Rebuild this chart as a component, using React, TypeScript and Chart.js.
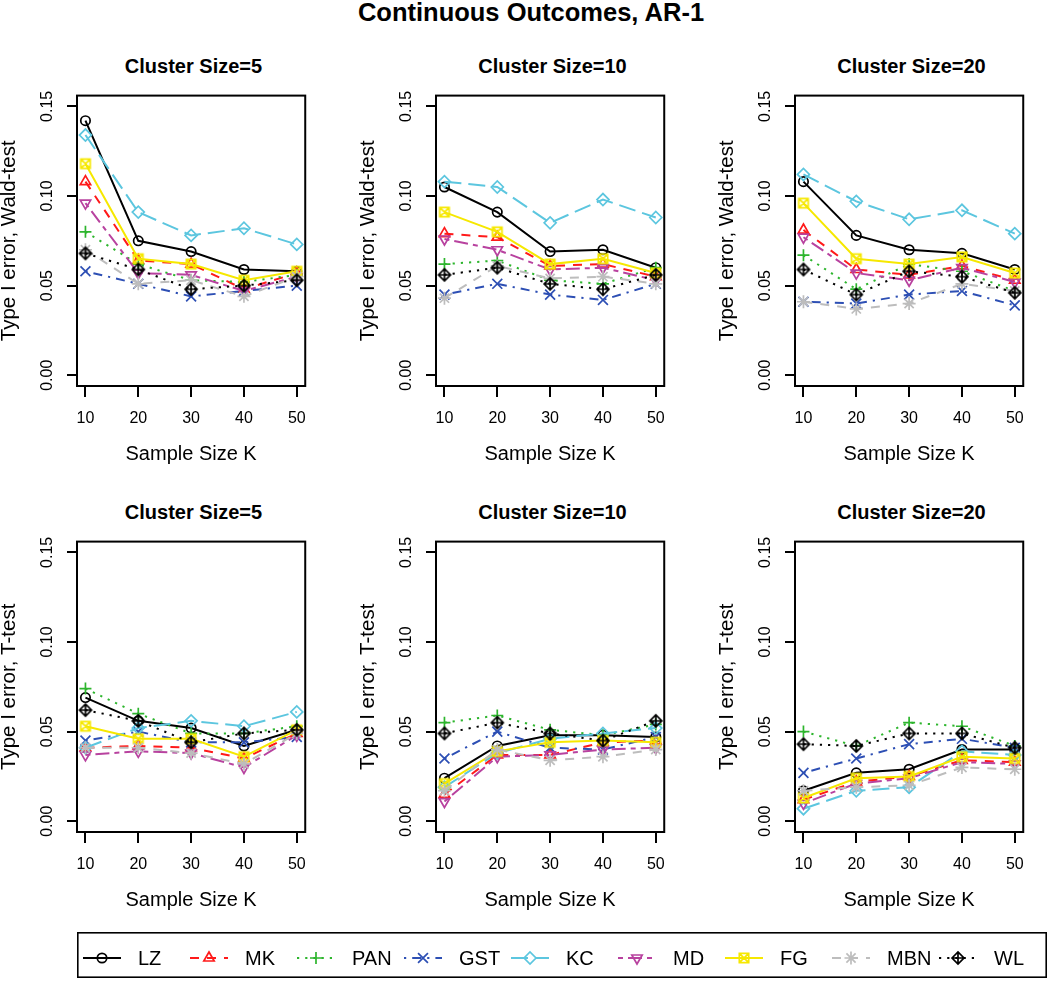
import React, { useEffect, useRef } from "react";
import { Chart, registerables } from "chart.js";
import { drawPoint } from "chart.js/helpers";

Chart.register(...registerables);

// ---------------- data ----------------
const sampleSizes = [10, 20, 30, 40, 50];
const methods = ["LZ", "MK", "PAN", "GST", "KC", "MD", "FG", "MBN", "WL"];
const yTickValues = [0, 0.05, 0.1, 0.15];
const clusterSizes = [5, 10, 20];

// rows follow the order of `methods`
const waldCS5 = [
  [0.142, 0.075, 0.069, 0.059, 0.058],
  [0.108, 0.064, 0.062, 0.048, 0.057],
  [0.080, 0.062, 0.053, 0.052, 0.056],
  [0.058, 0.051, 0.044, 0.047, 0.050],
  [0.134, 0.091, 0.078, 0.082, 0.073],
  [0.096, 0.057, 0.056, 0.047, 0.055],
  [0.118, 0.065, 0.062, 0.053, 0.058],
  [0.070, 0.051, 0.053, 0.044, 0.055],
  [0.068, 0.059, 0.048, 0.050, 0.053],
];
const waldCS10 = [
  [0.105, 0.091, 0.069, 0.070, 0.060],
  [0.079, 0.077, 0.061, 0.062, 0.055],
  [0.062, 0.064, 0.053, 0.051, 0.060],
  [0.045, 0.051, 0.045, 0.042, 0.051],
  [0.108, 0.105, 0.085, 0.098, 0.088],
  [0.076, 0.070, 0.059, 0.060, 0.053],
  [0.091, 0.080, 0.062, 0.065, 0.057],
  [0.043, 0.061, 0.054, 0.055, 0.051],
  [0.056, 0.060, 0.051, 0.048, 0.056],
];
const waldCS20 = [
  [0.108, 0.078, 0.070, 0.068, 0.059],
  [0.081, 0.059, 0.056, 0.061, 0.053],
  [0.067, 0.048, 0.062, 0.058, 0.047],
  [0.041, 0.040, 0.045, 0.047, 0.039],
  [0.112, 0.097, 0.087, 0.092, 0.079],
  [0.077, 0.057, 0.053, 0.060, 0.052],
  [0.096, 0.065, 0.062, 0.066, 0.057],
  [0.041, 0.037, 0.040, 0.051, 0.047],
  [0.059, 0.045, 0.058, 0.055, 0.046],
];
const tCS5 = [
  [0.069, 0.056, 0.052, 0.042, 0.051],
  [0.041, 0.042, 0.041, 0.035, 0.049],
  [0.074, 0.060, 0.049, 0.049, 0.053],
  [0.045, 0.050, 0.044, 0.044, 0.047],
  [0.041, 0.052, 0.056, 0.053, 0.061],
  [0.037, 0.039, 0.038, 0.030, 0.048],
  [0.053, 0.046, 0.046, 0.036, 0.051],
  [0.041, 0.041, 0.038, 0.032, 0.049],
  [0.062, 0.056, 0.044, 0.049, 0.051],
];
const tCS10 = [
  [0.024, 0.042, 0.048, 0.048, 0.047],
  [0.015, 0.037, 0.037, 0.044, 0.045],
  [0.055, 0.059, 0.051, 0.048, 0.054],
  [0.035, 0.050, 0.041, 0.040, 0.047],
  [0.019, 0.038, 0.046, 0.049, 0.052],
  [0.011, 0.036, 0.037, 0.040, 0.041],
  [0.021, 0.039, 0.044, 0.045, 0.044],
  [0.017, 0.040, 0.034, 0.036, 0.040],
  [0.049, 0.055, 0.049, 0.045, 0.056],
];
const tCS20 = [
  [0.017, 0.027, 0.029, 0.040, 0.040],
  [0.012, 0.022, 0.025, 0.034, 0.033],
  [0.050, 0.042, 0.055, 0.053, 0.042],
  [0.027, 0.035, 0.043, 0.046, 0.041],
  [0.007, 0.017, 0.019, 0.039, 0.037],
  [0.010, 0.021, 0.024, 0.033, 0.032],
  [0.013, 0.024, 0.025, 0.036, 0.035],
  [0.017, 0.019, 0.020, 0.030, 0.029],
  [0.043, 0.042, 0.049, 0.049, 0.041],
];

// ---------------- styles ----------------
const FONT = "'Liberation Sans', Arial, Helvetica, sans-serif";
const COLORS = ["#000000", "#FF1A1A", "#2DB52D", "#2D4FB4", "#5CC6DF", "#B8429F", "#F6E800", "#BDBDBD", "#000000"];
const DASHES: number[][] = [
  [],
  [9, 8],
  [2.2, 6],
  [2.2, 6, 9, 6],
  [17, 7],
  [5, 5, 14, 5],
  [],
  [9, 8],
  [2.2, 6],
];
const X_MIN = 8.4, X_MAX = 51.6, Y_MIN = -0.006, Y_MAX = 0.156;
const BOX_W = 233, BOX_H = 300;
const COL_LEFT = [77, 436, 795];
const ROW_TOP = [86, 532];
const Y_AXIS_W = 82, X_AXIS_H = 80, PAD_T = 4, PAD_R = 8;

function makeMarker(kind: "sqx" | "diaplus", color: string): HTMLCanvasElement {
  const c = document.createElement("canvas");
  c.width = 18; c.height = 18;
  const g = c.getContext("2d")!;
  g.strokeStyle = color; g.lineWidth = 1.7;
  const m = 9;
  g.beginPath();
  if (kind === "sqx") {
    const h = 4.7;
    g.rect(m - h, m - h, 2 * h, 2 * h);
    g.moveTo(m - h, m - h); g.lineTo(m + h, m + h);
    g.moveTo(m + h, m - h); g.lineTo(m - h, m + h);
  } else {
    const r = 6;
    g.moveTo(m - r, m); g.lineTo(m, m - r); g.lineTo(m + r, m); g.lineTo(m, m + r); g.closePath();
    g.moveTo(m - r, m); g.lineTo(m + r, m);
    g.moveTo(m, m - r); g.lineTo(m, m + r);
  }
  g.stroke();
  return c;
}

function markerStyles() {
  return [
    { style: "circle" as any, radius: 4.7, rotation: 0 },
    { style: "triangle" as any, radius: 6, rotation: 0 },
    { style: "cross" as any, radius: 6, rotation: 0 },
    { style: "crossRot" as any, radius: 7, rotation: 0 },
    { style: "rectRot" as any, radius: 6, rotation: 0 },
    { style: "triangle" as any, radius: 6, rotation: 180 },
    { style: makeMarker("sqx", COLORS[6]) as any, radius: 5, rotation: 0 },
    { style: "star" as any, radius: 6.5, rotation: 0 },
    { style: makeMarker("diaplus", COLORS[8]) as any, radius: 6, rotation: 0 },
  ];
}

const boxPlugin = {
  id: "box",
  afterDraw(chart: any) {
    const { ctx, chartArea: a } = chart;
    ctx.save();
    ctx.strokeStyle = "#000";
    ctx.lineWidth = 2;
    ctx.setLineDash([]);
    ctx.strokeRect(a.left, a.top, a.right - a.left, a.bottom - a.top);
    ctx.restore();
  },
};

type PanelProps = { col: number; row: number; series: number[][]; yTitle: string };

function Panel({ col, row, series, yTitle }: PanelProps) {
  const ref = useRef<HTMLCanvasElement>(null);
  const width = Y_AXIS_W + BOX_W + PAD_R;
  const height = PAD_T + BOX_H + X_AXIS_H;
  useEffect(() => {
    const mk = markerStyles();
    const chart = new Chart(ref.current!, {
      type: "line",
      data: {
        datasets: methods.map((m, i) => ({
          label: m,
          data: sampleSizes.map((k, j) => ({ x: k, y: series[i][j] })),
          borderColor: COLORS[i],
          borderDash: DASHES[i],
          borderWidth: 2,
          tension: 0,
          fill: false,
          order: -i,
          pointStyle: mk[i].style,
          pointRadius: mk[i].radius,
          pointRotation: mk[i].rotation,
          pointBorderColor: COLORS[i],
          pointBackgroundColor: "rgba(0,0,0,0)",
          pointBorderWidth: 1.7,
        })),
      },
      options: {
        responsive: false,
        animation: false,
        devicePixelRatio: 1,
        events: [],
        layout: { padding: { left: 0, top: PAD_T, right: PAD_R, bottom: 0 } },
        plugins: { legend: { display: false }, tooltip: { enabled: false }, title: { display: false } },
        scales: {
          x: {
            type: "linear",
            min: X_MIN,
            max: X_MAX,
            bounds: "data",
            afterBuildTicks: (s: any) => { s.ticks = sampleSizes.map((v) => ({ value: v })); },
            afterFit: (s: any) => { s.height = X_AXIS_H; },
            grid: { drawOnChartArea: false, drawTicks: true, tickLength: 11, color: "#000", lineWidth: 2 },
            border: { display: false },
            ticks: { color: "#000", font: { family: FONT, size: 16 }, padding: 12, autoSkip: false, maxRotation: 0, minRotation: 0, callback: (v: any) => String(v) },
            title: { display: true, text: "Sample Size K", color: "#000", font: { family: FONT, size: 20 }, padding: { top: 0, bottom: 0 } },
          },
          y: {
            type: "linear",
            min: Y_MIN,
            max: Y_MAX,
            bounds: "data",
            afterBuildTicks: (s: any) => { s.ticks = yTickValues.map((v) => ({ value: v })); },
            afterFit: (s: any) => { s.width = Y_AXIS_W; },
            grid: { drawOnChartArea: false, drawTicks: true, tickLength: 10, color: "#000", lineWidth: 2 },
            border: { display: false },
            ticks: { color: "#000", font: { family: FONT, size: 16 }, padding: 4, autoSkip: false, minRotation: 90, maxRotation: 90, crossAlign: "center", callback: (v: any) => Number(v).toFixed(2) },
            title: { display: true, text: yTitle, color: "#000", font: { family: FONT, size: 20.5, lineHeight: 1 }, padding: { top: 4, bottom: 0 } },
          },
        },
      } as any,
      plugins: [boxPlugin],
    });
    return () => chart.destroy();
  }, []);
  const left = COL_LEFT[col] - Y_AXIS_W;
  const top = ROW_TOP[row] - PAD_T;
  return (
    <>
      <div
        style={{
          position: "absolute",
          left: COL_LEFT[col],
          width: BOX_W,
          top: ROW_TOP[row] - 30,
          fontFamily: FONT,
          fontWeight: "bold",
          fontSize: 20,
          lineHeight: "20px",
          textAlign: "center",
          whiteSpace: "nowrap",
          color: "#000",
        }}
      >
        {`Cluster Size=${clusterSizes[col]}`}
      </div>
      <canvas
        ref={ref}
        width={width}
        height={height}
        style={{ position: "absolute", left, top, width, height }}
      />
    </>
  );
}

function Legend() {
  const ref = useRef<HTMLCanvasElement>(null);
  const W = 970, H = 46;
  useEffect(() => {
    const c = ref.current!;
    const ctx = c.getContext("2d")!;
    const mk = markerStyles();
    ctx.clearRect(0, 0, W, H);
    ctx.strokeStyle = "#000";
    ctx.lineWidth = 1.6;
    ctx.strokeRect(0.8, 0.8, W - 1.6, H - 1.6);
    const cy = 26;
    methods.forEach((m, i) => {
      const s0 = 6 + 107 * i;
      const s1 = s0 + 38;
      ctx.save();
      ctx.strokeStyle = COLORS[i];
      ctx.lineWidth = 2;
      ctx.setLineDash(DASHES[i]);
      ctx.beginPath();
      ctx.moveTo(s0, cy);
      ctx.lineTo(s1, cy);
      ctx.stroke();
      ctx.setLineDash([]);
      ctx.fillStyle = "rgba(0,0,0,0)";
      ctx.lineWidth = 1.7;
      drawPoint(ctx, { pointStyle: mk[i].style, radius: mk[i].radius, rotation: mk[i].rotation, borderWidth: 1.7 } as any, (s0 + s1) / 2, cy);
      ctx.restore();
      ctx.fillStyle = "#000";
      ctx.font = `20px ${FONT}`;
      ctx.textBaseline = "middle";
      ctx.textAlign = "left";
      ctx.fillText(m, s0 + 55, cy + 1);
    });
  }, []);
  return <canvas ref={ref} width={W} height={H} style={{ position: "absolute", left: 77, top: 932, width: W, height: H }} />;
}

export default function App() {
  const rows = [
    { title: "Type I error, Wald-test", data: [waldCS5, waldCS10, waldCS20] },
    { title: "Type I error, T-test", data: [tCS5, tCS10, tCS20] },
  ];
  return (
    <div style={{ position: "absolute", left: 0, top: 0, width: 1050, height: 983, background: "#fff", overflow: "hidden" }}>
      <div
        style={{
          position: "absolute",
          left: 0,
          width: 1062,
          top: 0,
          fontFamily: FONT,
          fontWeight: "bold",
          fontSize: 25.5,
          lineHeight: "25px",
          textAlign: "center",
          color: "#000",
          whiteSpace: "nowrap",
        }}
      >
        Continuous Outcomes, AR-1
      </div>
      {rows.map((r, ri) =>
        r.data.map((d, ci) => <Panel key={`${ri}-${ci}`} col={ci} row={ri} series={d} yTitle={r.title} />)
      )}
      <Legend />
    </div>
  );
}
